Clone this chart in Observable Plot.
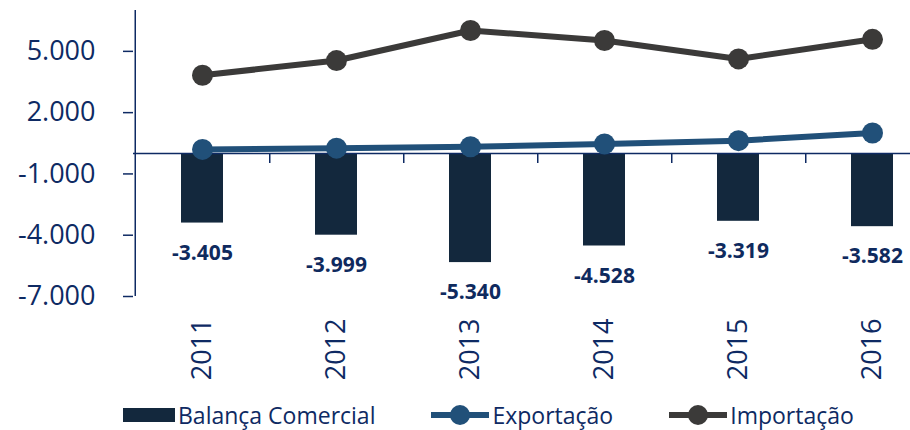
<!DOCTYPE html>
<html>
<head>
<meta charset="utf-8">
<script src="https://cdn.jsdelivr.net/npm/d3@7"></script>
<script src="https://cdn.jsdelivr.net/npm/@observablehq/plot@0.6"></script>
<style>
  html, body { margin: 0; padding: 0; background: white; }
  #chart { width: 910px; height: 430px; position: relative; }
  .legend { display: flex; align-items: center; gap: 56px; padding-left: 123px; height: 30px; line-height: 30px;
    font-family: "Open Sans", sans-serif; font-size: 23px; color: #0e2a63; white-space: nowrap; }
  .legend .item { display: flex; align-items: center; gap: 3px; }
  .legend svg { display: block; }
</style>
</head>
<body>
<div id="chart"></div>
<script>
const years = ["2011", "2012", "2013", "2014", "2015", "2016"];
const balanca = [-3405, -3999, -5340, -4528, -3319, -3582];
const exportacao = [200, 260, 330, 470, 630, 1005];
const importacao = [3830, 4550, 6020, 5530, 4630, 5590];
const yTicks = [5000, 2000, -1000, -4000, -7000];
const seriesNames = ["Balança Comercial", "Exportação", "Importação"];

const colors = { bar: "#13283d", exp: "#215079", imp: "#3b3a39", axis: "#0e2a63", label: "#0f2a5e" };

const loc = d3.formatLocale({ decimal: ",", thousands: ".", grouping: [3], currency: ["R$", ""], minus: "-" });
const fmt = loc.format(",.0f");

const rows = years.map((y, i) => ({ year: y, bal: balanca[i], exp: exportacao[i], imp: importacao[i] }));

const W = 910, H = 400, ML = 133, MT = 10, MB = 104;
const xRange = [ML, 940];
const step = (xRange[1] - xRange[0]) / years.length;

const plot = Plot.plot({
  width: W,
  height: H,
  marginLeft: ML,
  marginRight: 0,
  marginTop: MT,
  marginBottom: MB,
  style: { fontFamily: "Open Sans, sans-serif", fontSize: "27px", color: colors.axis, background: "white", overflow: "hidden" },
  x: { domain: years, range: xRange, paddingInner: 0.69, paddingOuter: 0.345, axis: null },
  y: { domain: [-7000, 7000], axis: null },
  marks: [
    Plot.barY(rows, { x: "year", y: "bal", fill: colors.bar }),
    Plot.ruleY([0], { stroke: colors.axis, strokeWidth: 1.5 }),
    Plot.ruleX(years.slice(0, 5), { x: d => d, y1: 0, y2: 0, insetBottom: -10, dx: step / 2, stroke: colors.axis, strokeWidth: 1.5 }),
    Plot.ruleX([years[0]], { dx: -step / 2, stroke: colors.axis, strokeWidth: 1.5 }),
    Plot.axisY(yTicks, { anchor: "left", tickSize: 10, tickPadding: 28, tickFormat: fmt, fontSize: 27, stroke: colors.axis, fill: colors.axis, strokeWidth: 1.5 }),
    Plot.axisX({ anchor: "bottom", tickSize: 0, tickPadding: 22, tickRotate: -90, fontSize: 27, fill: colors.axis, label: null }),
    Plot.line(rows, { x: "year", y: "exp", stroke: colors.exp, strokeWidth: 6 }),
    Plot.dot(rows, { x: "year", y: "exp", r: 10.5, fill: colors.exp }),
    Plot.line(rows, { x: "year", y: "imp", stroke: colors.imp, strokeWidth: 6 }),
    Plot.dot(rows, { x: "year", y: "imp", r: 10.5, fill: colors.imp }),
    Plot.text(rows, { x: "year", y: "bal", text: d => fmt(d.bal), dy: 30, fontWeight: "bold", fontSize: 21, fill: colors.label })
  ]
});

const chart = document.getElementById("chart");
chart.appendChild(plot);

const legend = document.createElement("div");
legend.className = "legend";
const swatches = [
  `<svg width="52" height="14"><rect width="52" height="14" fill="${colors.bar}"/></svg>`,
  `<svg width="58" height="24"><line x1="1" x2="57" y1="12" y2="12" stroke="${colors.exp}" stroke-width="6" stroke-linecap="round"/><circle cx="29" cy="12" r="10" fill="${colors.exp}"/></svg>`,
  `<svg width="58" height="24"><line x1="1" x2="57" y1="12" y2="12" stroke="${colors.imp}" stroke-width="6" stroke-linecap="round"/><circle cx="29" cy="12" r="10" fill="${colors.imp}"/></svg>`
];
seriesNames.forEach((name, i) => {
  const item = document.createElement("div");
  item.className = "item";
  item.innerHTML = swatches[i] + `<span>${name}</span>`;
  legend.appendChild(item);
});
chart.appendChild(legend);
</script>
</body>
</html>
